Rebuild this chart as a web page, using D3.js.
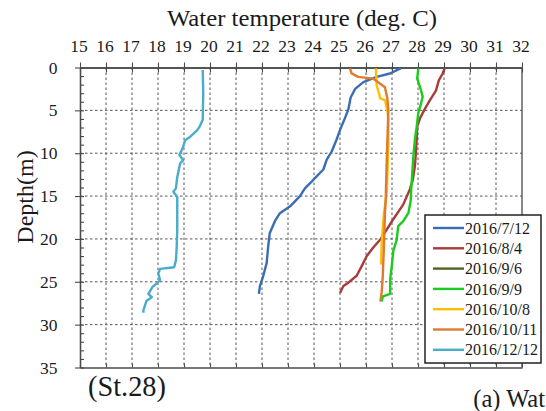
<!DOCTYPE html>
<html>
<head>
<meta charset="utf-8">
<script src="https://cdn.jsdelivr.net/npm/d3@7"></script>
<style>
  html, body { margin: 0; padding: 0; background: #fff; }
  svg { display: block; }
  text { font-family: "Liberation Serif", "Times New Roman", serif; fill: #1a1a1a; }
</style>
</head>
<body>
<svg id="chart" width="546" height="411"></svg>
<script>
// ---- data: [temperature (deg C), depth (m)] ----
const s20160712 = [[27.33,0.1],[26.92,0.7],[26.41,1.1],[25.9,1.7],[25.58,2.5],[25.41,3.5],[25.32,4.9],[25.19,5.9],[25.0,7.3],[24.87,8.4],[24.68,9.8],[24.49,10.75],[24.36,11.9],[24.1,12.7],[23.85,13.5],[23.65,14.1],[23.46,15.0],[23.08,16.2],[22.69,17.0],[22.5,17.9],[22.3,19.3],[22.24,20.8],[22.18,22.8],[22.05,24.3],[21.92,25.5],[21.88,26.4]];
const s20160804 = [[29.02,0.1],[28.95,0.7],[28.8,1.5],[28.69,2.7],[28.46,3.8],[28.27,4.8],[28.08,5.9],[27.97,6.9],[27.95,8.4],[27.92,10.0],[27.88,11.5],[27.8,13.1],[27.69,14.2],[27.43,16.0],[27.05,17.7],[26.8,18.9],[26.54,20.1],[26.28,21.0],[26.03,22.0],[25.83,23.2],[25.64,24.3],[25.32,25.1],[25.13,25.5],[25.0,26.3]];
const s20160906 = [];
const s20160909 = [[28.01,0.1],[27.97,1.3],[28.1,2.5],[28.18,3.4],[28.1,4.4],[28.01,5.3],[27.95,6.9],[27.88,8.4],[27.82,10.4],[27.78,12.3],[27.74,14.2],[27.72,15.5],[27.63,17.0],[27.44,17.9],[27.24,18.5],[27.18,20.1],[27.05,21.4],[26.99,23.2],[26.93,24.7],[26.93,26.4],[26.65,26.7],[26.6,27.3]];
const s20161008 = [[26.38,0.1],[26.41,2.1],[26.51,3.1],[26.54,3.6],[26.73,3.8],[26.82,5.0],[26.86,6.0],[26.86,8.8],[26.82,12.7],[26.8,14.6],[26.69,17.0],[26.64,18.9],[26.6,20.8],[26.58,23.0]];
const s20161011 = [[25.38,0.1],[25.45,0.7],[25.7,1.1],[26.28,1.3],[26.73,2.3],[26.82,3.6],[26.86,5.0],[26.82,8.8],[26.78,12.7],[26.76,15.3],[26.73,17.0],[26.69,20.8],[26.64,24.7],[26.6,26.3],[26.55,27.3]];
const s20161212 = [[19.72,0.3],[19.74,3.0],[19.72,6.1],[19.6,6.9],[19.51,7.3],[19.23,8.1],[19.04,8.5],[18.95,9.4],[18.82,10.2],[18.97,10.8],[18.85,11.2],[18.74,12.8],[18.69,14.1],[18.59,14.5],[18.74,15.1],[18.74,17.0],[18.74,19.0],[18.72,20.9],[18.69,22.5],[18.62,23.3],[18.08,23.5],[18.01,24.0],[18.08,24.8],[17.95,25.2],[17.79,25.6],[17.63,26.4],[17.76,26.8],[17.56,27.2],[17.44,28.3],[17.44,28.6]];

const seriesNames = ["2016/7/12","2016/8/4","2016/9/6","2016/9/9","2016/10/8","2016/10/11","2016/12/12"];
const seriesColors = ["#3b6db3","#a83c38","#4f6228","#1ccc1c","#ffbf00","#e07a2e","#4aaccb"];
const seriesData = [s20160712, s20160804, s20160906, s20160909, s20161008, s20161011, s20161212];

const xTicks = d3.range(15, 33, 1);
const yMajorTicks = [0,5,10,15,20,25,30,35];
const yMinorTicks = d3.range(0, 36, 1);

const titleText = "Water temperature (deg. C)";
const yTitleText = "Depth(m)";
const stationText = "(St.28)";
const captionText = "(a) Wat";

// ---- layout ----
const svg = d3.select("#chart");
const x = d3.scaleLinear().domain([15, 32]).range([80, 522]);
const y = d3.scaleLinear().domain([0, 35]).range([67.5, 367.5]);
const axisColor = "#4a4a4a";
const serif = "'Liberation Serif', 'Times New Roman', serif";

svg.append("rect").attr("width", 546).attr("height", 411).attr("fill", "#fff");

// grid
const grid = svg.append("g");
grid.selectAll("line.v").data(xTicks.filter(d => d > 15 && d < 32)).join("line")
  .attr("x1", d => x(d)).attr("x2", d => x(d))
  .attr("y1", y(0)).attr("y2", y(35))
  .attr("stroke", "#555").attr("stroke-width", 1).attr("stroke-dasharray", "2.5,2.5");
grid.selectAll("line.h").data(yMajorTicks.filter(d => d > 0 && d < 35)).join("line")
  .attr("x1", x(15)).attr("x2", x(32))
  .attr("y1", d => y(d)).attr("y2", d => y(d))
  .attr("stroke", "#555").attr("stroke-width", 1).attr("stroke-dasharray", "2.5,2.5");

function styleAxis(g) {
  g.attr("font-family", serif);
  g.select(".domain").attr("stroke", axisColor).attr("stroke-width", 1.3);
  g.selectAll(".tick line").attr("stroke", axisColor).attr("stroke-width", 1.1);
}

// top axis with labels (ticks crossing)
const gTop = svg.append("g").attr("transform", `translate(0,${y(0)})`)
  .call(d3.axisTop(x).tickValues(xTicks).tickSizeInner(5).tickSizeOuter(0).tickPadding(10.5).tickFormat(d3.format("d")));
styleAxis(gTop);
gTop.selectAll("text").attr("font-size", "17.5px").attr("dx", "-1.5").style("font-family", serif).attr("fill", "#1a1a1a");
const gTop2 = svg.append("g").attr("transform", `translate(0,${y(0)})`)
  .call(d3.axisBottom(x).tickValues(xTicks).tickSizeInner(5).tickSizeOuter(0).tickFormat(""));
styleAxis(gTop2);

// bottom axis (inward ticks)
const gBot = svg.append("g").attr("transform", `translate(0,${y(35)})`)
  .call(d3.axisTop(x).tickValues(xTicks).tickSizeInner(4).tickSizeOuter(0).tickFormat(""));
styleAxis(gBot);

// left axis
const gLeft = svg.append("g").attr("transform", `translate(${x(15)},0)`)
  .call(d3.axisLeft(y).tickValues(yMajorTicks).tickSizeInner(5).tickSizeOuter(0).tickPadding(17.5).tickFormat(d3.format("d")));
styleAxis(gLeft);
gLeft.selectAll("text").attr("font-size", "17.5px").style("font-family", serif).attr("fill", "#1a1a1a");
const gLeft2 = svg.append("g").attr("transform", `translate(${x(15)},0)`)
  .call(d3.axisRight(y).tickValues(yMinorTicks).tickSizeInner(4).tickSizeOuter(0).tickFormat(""));
styleAxis(gLeft2);

// right border
svg.append("line").attr("x1", x(32)).attr("x2", x(32)).attr("y1", y(0)).attr("y2", y(35))
  .attr("stroke", axisColor).attr("stroke-width", 1.3);

// series lines
const line = d3.line().x(d => x(d[0])).y(d => y(d[1]));
svg.append("g").selectAll("path").data(seriesData).join("path")
  .attr("d", d => d.length ? line(d) : null)
  .attr("fill", "none")
  .attr("stroke", (d, i) => seriesColors[i])
  .attr("stroke-width", 2.4)
  .attr("stroke-linejoin", "round");

// titles
svg.append("text").attr("x", 302).attr("y", 26).attr("text-anchor", "middle")
  .attr("font-size", "23px").attr("textLength", 270).attr("lengthAdjust", "spacingAndGlyphs")
  .text(titleText);
svg.append("text").attr("transform", "translate(33,197) rotate(-90)").attr("text-anchor", "middle")
  .attr("font-size", "24px").text(yTitleText);
svg.append("text").attr("x", 88).attr("y", 396).attr("font-size", "30px")
  .attr("textLength", 78).attr("lengthAdjust", "spacingAndGlyphs").text(stationText);
svg.append("text").attr("x", 545).attr("y", 407).attr("text-anchor", "end").attr("font-size", "24.5px").text(captionText);

// legend
const lg = svg.append("g");
lg.append("rect").attr("x", 425).attr("y", 215).attr("width", 116).attr("height", 148)
  .attr("fill", "#fff").attr("stroke", "#222").attr("stroke-width", 1.5);
const rows = lg.selectAll("g.row").data(seriesNames).join("g")
  .attr("transform", (d, i) => `translate(0,${228 + i * 20.3})`);
rows.append("line").attr("x1", 433).attr("x2", 464).attr("y1", 0).attr("y2", 0)
  .attr("stroke", (d, i) => seriesColors[i]).attr("stroke-width", 2.4);
rows.append("text").attr("x", 465).attr("y", 0).attr("dy", "0.35em")
  .attr("font-size", "16px").text(d => d);
</script>
</body>
</html>
